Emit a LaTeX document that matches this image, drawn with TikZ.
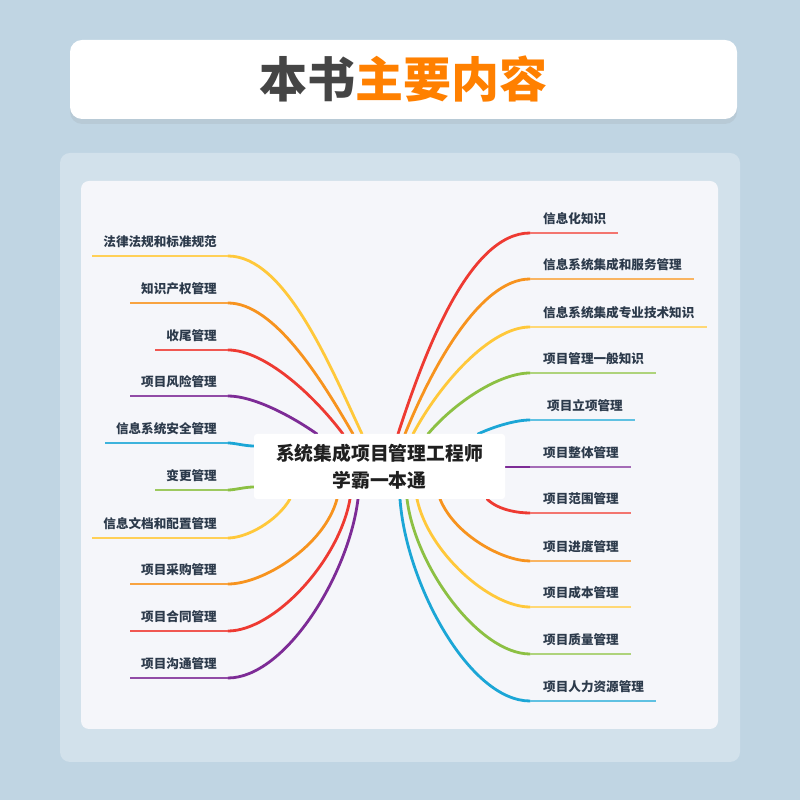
\documentclass[tikz,border=0pt]{standalone}
\usepackage{fontspec}
\setmainfont{Noto Sans CJK SC}
\usetikzlibrary{shadows}

\definecolor{fondo}{HTML}{C0D5E3}
\definecolor{panel}{HTML}{D2E1EB}
\definecolor{interior}{HTML}{F5F6FA}
\definecolor{textoazul}{HTML}{2C3A4B}
\definecolor{gristitulo}{HTML}{454545}
\definecolor{naranjatitulo}{HTML}{FF8000}
\definecolor{amarillo}{HTML}{FFC83A}
\definecolor{naranja}{HTML}{F7931E}
\definecolor{rojo}{HTML}{EE3A32}
\definecolor{morado}{HTML}{7D2B96}
\definecolor{cian}{HTML}{1BA6D6}
\definecolor{verde}{HTML}{8CC043}

\tikzset{
  rama/.style={line width=2.8pt, line cap=round, out looseness=0.9, in looseness=0.65},
  subrayado/.style={line width=2pt},
  etiqueta/.style={inner sep=0pt, text=textoazul,
    font=\fontsize{12.6}{14}\selectfont\bfseries},
}

\begin{document}
\begin{tikzpicture}[x=1pt,y=1pt]
    % 1. FONDO GENERAL
    \fill[fondo] (0,0) rectangle (800,800);
    \useasboundingbox (0,0) rectangle (800,800);

    % 2. TARJETA DEL TITULO
    \node[fill=white, rounded corners=12pt, minimum width=667pt, minimum height=79pt,
          drop shadow={shadow xshift=0pt, shadow yshift=-5pt, opacity=0.12}] (tarjeta) at (403.5,720.5) {};
    \node[font=\fontsize{48}{50}\selectfont\bfseries] (titulo) at (tarjeta)
        {\textcolor{gristitulo}{本书}\textcolor{naranjatitulo}{主要内容}};

    % 3. PANELES
    \fill[panel, rounded corners=10pt] (60,38) rectangle (740,647);
    \fill[interior, rounded corners=8pt] (81,71) rectangle (718,619);

    % 4. RAMAS IZQUIERDAS (y de la linea / salida x / salida y / angulo / color / texto)
    \foreach \y/\sx/\sy/\ang/\col/\txt [count=\n] in {
        544/362/366/115/amarillo/法律法规和标准规范,
        497/353/366/120/naranja/知识产权管理,
        450/343/366/127/rojo/收尾管理,
        404/317/366/145/morado/项目风险管理,
        357/254/354/180/cian/信息系统安全管理,
        310/254/313/180/verde/变更管理,
        262/290/301/-120/amarillo/信息文档和配置管理,
        216/337/301/-105/naranja/项目采购管理,
        169/350/301/-100/rojo/项目合同管理,
        122/358/301/-97/morado/项目沟通管理} {
        \node[etiqueta, anchor=east] (izqet\n) at (217,\y+14) {\txt};
        \coordinate (izq\n) at (228,\y);
        \coordinate (izqs\n) at (\sx,\sy);
        \draw[rama, \col] (izqs\n) to[out=\ang, in=0] (izq\n);
        \draw[subrayado, \col!85] (izq\n) -- ([xshift=-11pt]izqet\n.west |- izq\n);
    }

    % 5. RAMAS DERECHAS
    \foreach \y/\sx/\sy/\ang/\col/\txt/\dx [count=\n] in {
        567/398/366/72/rojo/信息化知识/0,
        521/405/366/68/naranja/信息系统集成和服务管理/0,
        473/413/366/62/amarillo/信息系统集成专业技术知识/0,
        427/428/366/50/verde/项目管理一般知识/0,
        380/478/366/25/cian/项目立项管理/4,
        333/505/333/0/morado/项目整体管理/0,
        287/487/301/-45/rojo/项目范围管理/0,
        239/440/301/-68/naranja/项目进度管理/0,
        193/417/301/-78/amarillo/项目成本管理/0,
        146/407/301/-83/verde/项目质量管理/0,
        99/400/301/-86/cian/项目人力资源管理/0} {
        \node[etiqueta, anchor=west] (deret\n) at (543+\dx,\y+14) {\txt};
        \coordinate (der\n) at (530,\y);
        \coordinate (ders\n) at (\sx,\sy);
        \draw[rama, \col] (ders\n) to[out=\ang, in=180] (der\n);
        \draw[subrayado, \col!70] (der\n) -- ([xshift=12pt]deret\n.east |- der\n);
    }

    % 6. NODO CENTRAL
    \node[fill=white, rounded corners=3pt, minimum width=251pt, minimum height=65pt,
          align=center, text=black!88, font=\fontsize{18.8}{27}\selectfont\bfseries]
        (centro) at (379.5,333.5) {系统集成项目管理工程师\\学霸一本通};

\end{tikzpicture}
\end{document}
